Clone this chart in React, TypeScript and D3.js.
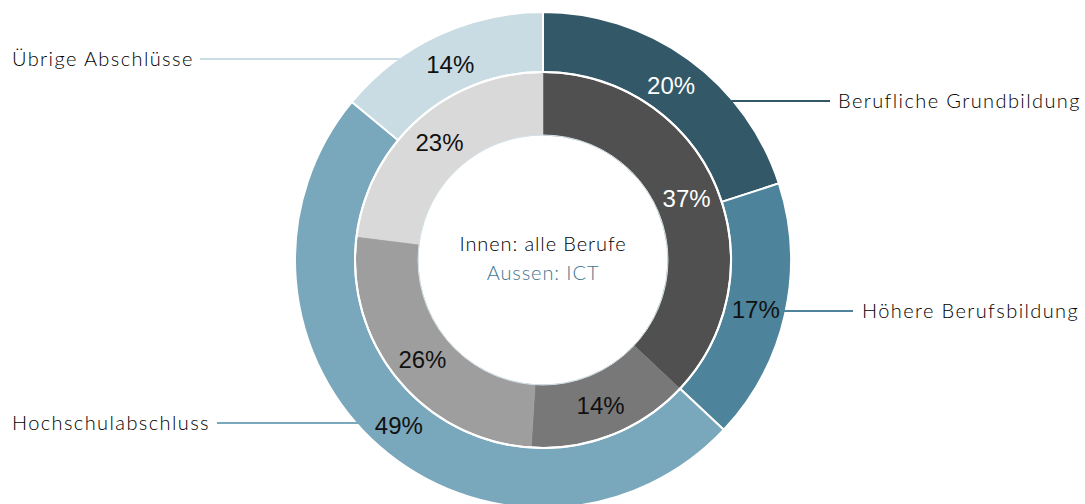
import * as d3 from "d3";

// Aussen: ICT
const outerLabels = [
  "Berufliche Grundbildung",
  "Höhere Berufsbildung",
  "Hochschulabschluss",
  "Übrige Abschlüsse",
];
const outerValues = [20, 17, 49, 14];
const outerColors = ["#335868", "#4e839c", "#79a7bc", "#c9dce4"];
const outerText = ["#fff", "#111", "#111", "#111"];

// Innen: alle Berufe
const innerValues = [37, 14, 26, 23];
const innerColors = ["#505050", "#787878", "#9e9e9e", "#d9d9d9"];
const innerText = ["#fff", "#111", "#111", "#111"];

const W = 1085;
const H = 504;
const cx = 543;
const cy = 260;
const rOuter = 248;
const rMid = 188;
const rInner = 125;

// where the callout lines and texts go
const callouts = [
  { y: 101, x2: 830, tx: 838, side: "right" },
  { y: 311, x2: 853, tx: 862, side: "right" },
  { y: 423, x2: 217, tx: 12, side: "left" },
  { y: 59, x2: 200, tx: 12, side: "left" },
];

export default function App() {
  const pie = d3
    .pie<number>()
    .sort(null)
    .value((d) => d);
  const outerArcs = pie(outerValues);
  const innerArcs = pie(innerValues);
  const arcOuter = d3.arc<d3.PieArcDatum<number>>().innerRadius(rMid).outerRadius(rOuter);
  const arcInner = d3.arc<d3.PieArcDatum<number>>().innerRadius(rInner).outerRadius(rMid);
  const labelFont = "Lato, 'Open Sans', sans-serif";
  const pctFont = "'Liberation Sans', Arial, sans-serif";

  return (
    <svg
      width={W}
      height={H}
      style={{ position: "absolute", left: 0, top: 0, background: "#fff" }}
    >
      <g transform={`translate(${cx},${cy})`}>
        {innerArcs.map((a, i) => (
          <path key={"i" + i} d={arcInner(a) ?? ""} fill={innerColors[i]} stroke={innerColors[i]} strokeWidth={0.5} />
        ))}
        <circle r={rInner} fill="none" stroke="#d3e2e9" strokeWidth={1} />
        {outerArcs.map((a, i) => (
          <path key={"o" + i} d={arcOuter(a) ?? ""} fill={outerColors[i]} stroke="#fff" strokeWidth={2} />
        ))}
        <circle r={rMid} fill="none" stroke="#fff" strokeWidth={2} />
        {innerArcs.map((a, i) => {
          const [x, y] = arcInner.centroid(a);
          return (
            <text key={"it" + i} x={x} y={y} dy="0.36em" textAnchor="middle" fill={innerText[i]}
              fontFamily={pctFont} fontSize={24}>
              {innerValues[i]}%
            </text>
          );
        })}
        {outerArcs.map((a, i) => {
          const [x, y] = arcOuter.centroid(a);
          return (
            <text key={"ot" + i} x={x} y={y + 2} dy="0.36em" textAnchor="middle" fill={outerText[i]}
              fontFamily={pctFont} fontSize={24}>
              {outerValues[i]}%
            </text>
          );
        })}
        <text x={0} y={-16} dy="0.36em" textAnchor="middle" fill="#000" fontFamily={labelFont}
          fontSize={20} fontWeight={300} letterSpacing={0.9}>
          Innen: alle Berufe
        </text>
        <text x={0} y={13} dy="0.36em" textAnchor="middle" fill="#3f7690" fontFamily={labelFont}
          fontSize={20} fontWeight={300} letterSpacing={0.9}>
          Aussen: ICT
        </text>
      </g>
      {callouts.map((c, i) => {
        const dy = c.y - cy;
        const dx = Math.sqrt(rOuter * rOuter - dy * dy) - 2;
        const x1 = c.side === "right" ? cx + dx : cx - dx;
        return (
          <g key={"c" + i}>
            <line x1={x1} y1={c.y} x2={c.x2} y2={c.y} stroke={outerColors[i]} strokeWidth={2} />
            <text x={c.tx} y={c.y} dy="0.36em" fill="#000" fontFamily={labelFont} fontSize={20}
              fontWeight={300} letterSpacing={1.4}>
              {outerLabels[i]}
            </text>
          </g>
        );
      })}
    </svg>
  );
}
